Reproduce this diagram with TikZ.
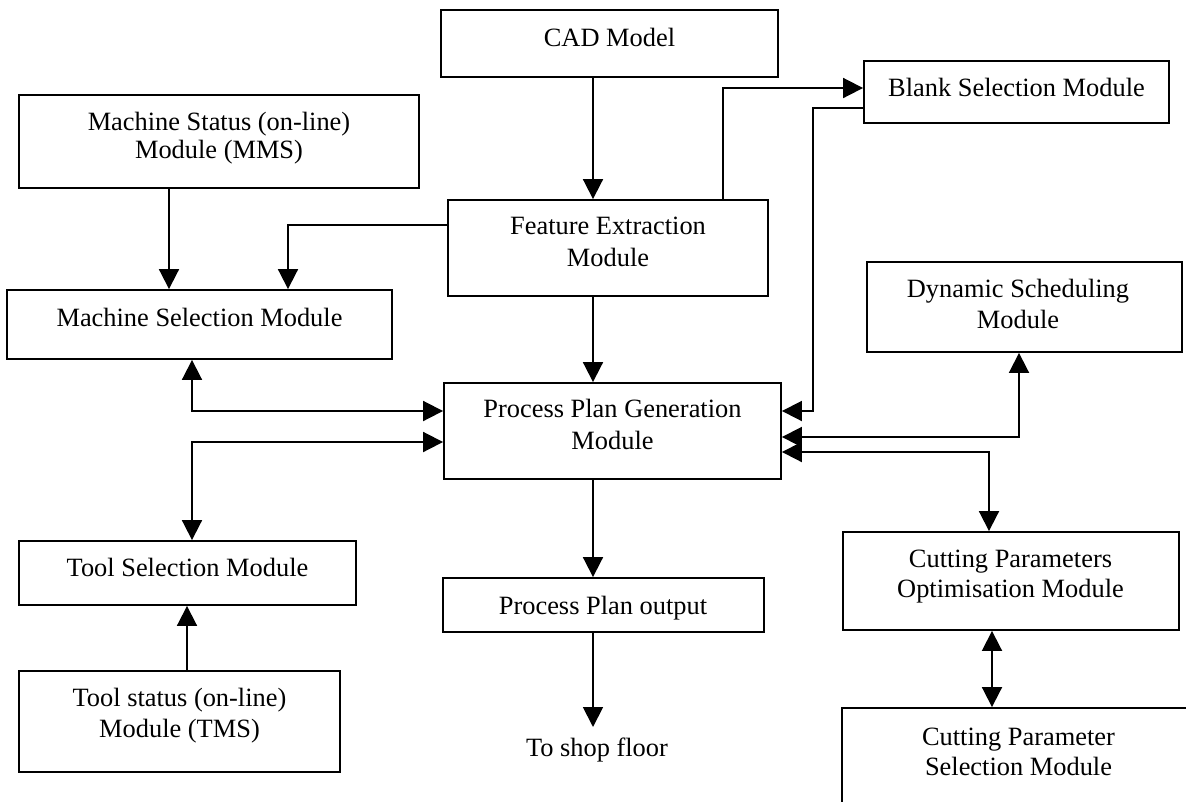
\documentclass[tikz,border=0pt]{standalone}
\usepackage{fontspec}
\setmainfont{Liberation Serif}
\usetikzlibrary{arrows.meta,fit}
\begin{document}
\begin{tikzpicture}[x=0.75pt,y=-0.75pt,
  box/.style={draw, line width=1.4pt, rectangle, inner sep=0pt},
  txt/.style={inner sep=0pt, anchor=base, font=\fontsize{19.8}{24}\selectfont},
  arr/.style={line width=1.4pt, -{Triangle[length=15pt,width=15pt]}},
  darr/.style={line width=1.4pt, {Triangle[length=15pt,width=15pt]}-{Triangle[length=15pt,width=15pt]}}]
\useasboundingbox (0,0) rectangle (1186,801);
\fill[white] (0,0) rectangle (1186,801);
\clip (0,0) rectangle (1186,801);

% boxes
\node[box, fit={(441,10) (778,77)}] (cad) {};
\node[box, fit={(864,61) (1169,123)}] (blank) {};
\node[box, fit={(19,95) (419,188)}] (mstat) {};
\node[box, fit={(448,200) (768,296)}] (feat) {};
\node[box, fit={(7,290) (392,359)}] (msel) {};
\node[box, fit={(867,262) (1182,352)}] (dyn) {};
\node[box, fit={(444,383) (781,479)}] (ppg) {};
\node[box, fit={(19,541) (356,605)}] (tsel) {};
\node[box, fit={(443,578) (764,632)}] (ppo) {};
\node[box, fit={(19,671) (340,772)}] (tstat) {};
\node[box, fit={(843,532) (1179,630)}] (cop) {};
\node[box, fit={(842,708) (1200,840)}] (cps) {};

% texts
\node[txt] (cadT) at (609.5,46) {CAD Model};
\node[txt] (blankT) at (1016.5,96) {Blank Selection Module};
\node[txt] (mstatT1) at (219,130) {Machine Status (on-line)};
\node[txt] (mstatT2) at (219,158) {Module (MMS)};
\node[txt] (featT1) at (608,234) {Feature Extraction};
\node[txt] (featT2) at (608,266) {Module};
\node[txt] (mselT) at (199.5,326) {Machine Selection Module};
\node[txt] (dynT1) at (1018,297) {Dynamic Scheduling};
\node[txt] (dynT2) at (1018,328) {Module};
\node[txt] (ppgT1) at (612.5,417) {Process Plan Generation};
\node[txt] (ppgT2) at (612.5,449) {Module};
\node[txt] (tselT) at (187.5,576) {Tool Selection Module};
\node[txt] (ppoT) at (603,614) {Process Plan output};
\node[txt] (shop) at (597,756) {To shop floor};
\node[txt] (tstatT1) at (179.5,706) {Tool status (on-line)};
\node[txt] (tstatT2) at (179.5,737) {Module (TMS)};
\node[txt] (copT1) at (1010.5,567) {Cutting Parameters};
\node[txt] (copT2) at (1010.5,597) {Optimisation Module};
\node[txt] (cpsT1) at (1018.5,745) {Cutting Parameter};
\node[txt] (cpsT2) at (1018.5,775) {Selection Module};

% helper coordinates
\coordinate (spine) at (593,0);
\coordinate (fb) at (723,88);
\coordinate (bp1) at (813,108);
\coordinate (bp2) at (813,411);
\coordinate (mm) at (169,0);
\coordinate (fm) at (288,225);
\coordinate (mp) at (192,411);
\coordinate (tp) at (192,442);
\coordinate (tt) at (187,0);
\coordinate (pd) at (1019,437);
\coordinate (pc) at (989,452);
\coordinate (cc) at (992,0);
\coordinate (shopend) at (593,727);

% connectors
\draw[arr] (cad.south -| spine) -- (feat.north -| spine);
\draw[arr] (feat.north -| fb) -- (fb) -- (blank.west |- fb);
\draw[arr] (blank.west |- bp1) -- (bp1) -- (bp2) -- (ppg.east |- bp2);
\draw[arr] (mstat.south -| mm) -- (msel.north -| mm);
\draw[arr] (feat.west |- fm) -- (fm) -- (msel.north -| fm);
\draw[darr] (msel.south -| mp) -- (mp) -- (ppg.west |- mp);
\draw[darr] (tsel.north -| tp) -- (tp) -- (ppg.west |- tp);
\draw[arr] (tstat.north -| tt) -- (tsel.south -| tt);
\draw[arr] (feat.south -| spine) -- (ppg.north -| spine);
\draw[arr] (ppg.south -| spine) -- (ppo.north -| spine);
\draw[arr] (ppo.south -| spine) -- (shopend);
\draw[darr] (ppg.east |- pd) -- (pd) -- (dyn.south -| pd);
\draw[darr] (ppg.east |- pc) -- (pc) -- (cop.north -| pc);
\draw[darr] (cop.south -| cc) -- (cps.north -| cc);
\end{tikzpicture}
\end{document}
